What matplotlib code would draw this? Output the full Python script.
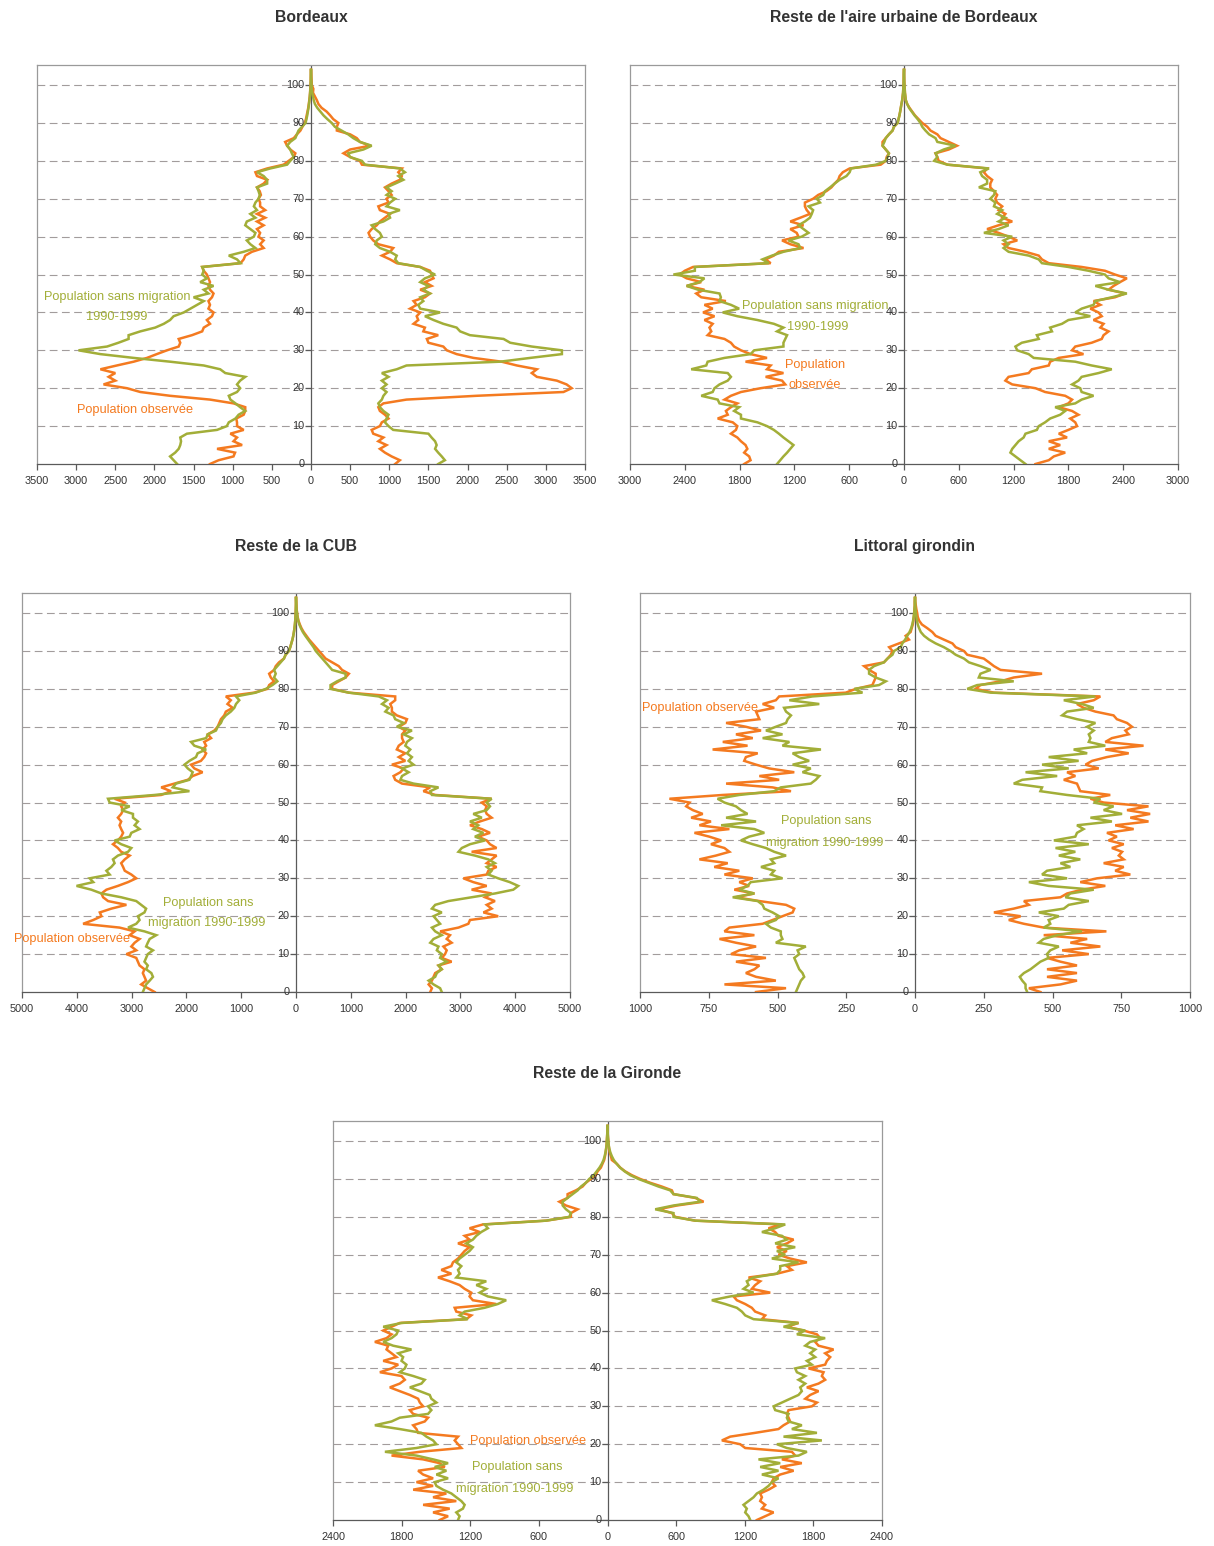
import numpy as np
import matplotlib
matplotlib.use("Agg")
import matplotlib.pyplot as plt
from matplotlib.transforms import offset_copy

W, H, DPI = 1214, 1546, 100
FONT = ["Liberation Sans Narrow", "Liberation Sans", "DejaVu Sans"]
ORANGE = "#F47A20"
GREEN = "#A2AE38"

ages = np.arange(0, 105)

# ---------------- Bordeaux ----------------
bdx_h_obs = [1290,1180,990,970,1200,880,990,945,1030,860,
    945,945,955,860,840,840,990,1290,1800,2180,
    2350,2650,2500,2585,2500,2690,2480,2265,2095,1970,
    1840,1690,1670,1690,1520,1390,1370,1290,1330,1265,
    1245,1310,1290,1310,1265,1245,1290,1310,1290,1310,
    1330,1370,1390,900,860,840,755,605,650,605,
    670,650,690,605,690,585,690,585,650,650,
    670,640,655,690,605,560,690,710,560,350,
    285,220,200,265,305,330,220,180,135,110,
    80,65,55,45,35,28,22,16,12,9,6,4,3,2,0]
bdx_h_sm = [1710,1755,1800,1735,1690,1670,1660,1670,1585,1200,
    1075,1050,965,925,840,905,965,1030,1050,945,
    905,945,905,840,1095,1160,1370,1800,2265,2690,
    2970,2605,2460,2330,2330,2180,1990,1880,1800,1755,
    1625,1540,1455,1370,1500,1310,1370,1245,1415,1330,
    1390,1370,1390,900,945,1050,860,710,775,820,
    730,710,775,840,820,710,775,690,730,710,
    670,655,670,690,560,560,605,690,520,305,
    265,220,245,265,305,265,200,180,160,115,
    70,58,48,40,32,26,20,15,11,8,5,4,3,2,0]
bdx_f_obs = [1075,1135,1030,945,880,965,860,925,795,775,
    880,905,990,945,880,860,925,1220,2115,3225,
    3330,3265,3140,2885,2820,2885,2630,2435,2075,1860,
    1735,1690,1500,1480,1625,1435,1455,1310,1370,1350,
    1395,1265,1350,1310,1455,1520,1395,1540,1455,1565,
    1540,1520,1395,1095,1010,905,1010,1050,860,795,
    755,735,775,840,880,945,1010,880,860,990,
    965,1030,990,945,1030,1135,1160,1115,1160,650,
    625,500,415,500,755,625,585,500,330,330,
    350,285,245,200,135,95,75,50,25,30,10,8,5,3,0]
bdx_f_sm = [1625,1710,1670,1625,1585,1605,1585,1540,1500,1050,
    990,945,965,990,925,880,860,905,925,965,
    905,965,905,990,905,1095,1220,2415,2800,3205,
    3205,2820,2545,2460,2030,1905,1860,1690,1565,1455,
    1650,1395,1370,1435,1395,1520,1435,1500,1395,1455,
    1585,1480,1395,1115,1075,1095,1010,880,820,840,
    905,880,820,775,925,1010,990,1135,965,1010,
    1075,965,1030,965,1075,1180,1115,1200,1135,690,
    650,500,475,670,775,625,540,475,390,305,
    265,210,160,120,80,50,35,25,15,10,7,5,3,2,0]

# ---------------- Reste de l'aire urbaine ----------------
au_h_obs = [1750,1680,1695,1750,1715,1735,1785,1825,1895,1840,
    1825,1875,2040,1930,1950,1895,1825,1965,1895,1785,
    1570,1300,1335,1515,1320,1500,1460,1735,1500,1680,
    1785,1860,1895,1965,2150,2110,2130,2095,2185,2075,
    2200,2095,2185,1950,2220,2275,2185,2380,2220,2380,
    2455,2400,2310,1460,1515,1425,1370,1100,1245,1335,
    1155,1175,1245,1100,1245,1135,1030,1065,1085,1085,
    995,940,850,795,760,720,705,670,595,255,
    200,190,165,200,235,235,200,165,125,110,
    70,60,50,42,35,28,20,15,10,8,5,4,3,2,0]
au_h_sm = [1390,1355,1320,1280,1245,1210,1265,1320,1370,1425,
    1500,1605,1785,1785,1860,1805,2020,2040,2220,2095,
    2075,2020,1930,1895,1930,2330,2165,2150,1965,1680,
    1640,1320,1320,1300,1280,1390,1320,1425,1605,1825,
    1985,1805,1895,2020,2005,2020,2255,2380,2240,2185,
    2525,2290,2290,1480,1550,1445,1320,1135,1155,1265,
    1120,1045,1100,1155,1085,1030,1010,995,1045,920,
    955,885,865,810,760,705,630,595,580,305,
    200,180,165,200,235,215,200,165,125,110,
    70,60,50,42,35,28,20,15,10,8,5,4,3,2,0]
au_f_obs = [1440,1585,1640,1765,1585,1710,1585,1785,1695,1800,
    1895,1875,1820,1910,1840,1695,1800,1840,1765,1545,
    1440,1185,1110,1145,1365,1400,1585,1600,1695,1965,
    1840,1875,2055,2165,2185,2240,2150,2185,2075,2165,
    2130,2040,2150,2075,2310,2420,2240,2295,2365,2440,
    2310,2200,1945,1585,1510,1475,1330,1145,1090,1240,
    1145,1035,910,1035,1185,1075,1110,1035,1075,1020,
    1000,1020,985,945,945,965,910,875,910,475,
    380,365,345,490,580,490,400,365,290,255,
    200,160,120,90,60,35,20,15,10,8,5,3,2,1,0]
au_f_sm = [1330,1275,1220,1165,1185,1220,1255,1310,1330,1455,
    1475,1545,1600,1710,1765,1655,1875,1945,2075,1945,
    1930,1840,1910,1945,2130,2275,2055,1875,1420,1365,
    1240,1220,1290,1475,1455,1620,1600,1730,1800,2040,
    1875,1945,2075,2095,2275,2440,2240,2095,2365,2240,
    2200,2020,1800,1510,1475,1365,1145,1090,1145,1090,
    1185,875,1035,1145,1035,1110,1020,1075,985,1000,
    945,985,1000,820,910,910,855,835,930,475,
    330,365,345,435,565,365,345,275,235,200,
    180,150,115,85,55,35,20,15,10,8,5,3,2,1,0]

# ---------------- Reste de la CUB ----------------
cub_h_obs = [2580,2705,2825,2735,2765,2795,2765,2855,2885,2915,
    3095,2915,3005,2945,2855,3035,2945,3220,3885,3700,
    3550,3580,3370,3095,3430,3520,3550,3460,3250,3065,
    2915,3005,3125,3155,3190,3125,3035,3190,3250,3340,
    3250,3190,3155,3190,3220,3190,3250,3190,3155,3190,
    3125,3310,2460,2280,2460,2220,1975,1885,1705,1855,
    1915,1735,1675,1640,1705,1640,1675,1550,1610,1490,
    1430,1400,1370,1310,1280,1155,1250,1190,1280,765,
    520,490,400,460,490,400,370,310,220,190,
    130,105,85,65,50,38,28,20,14,10,6,4,2,1,0]
cub_h_sm = [2795,2765,2735,2670,2610,2640,2735,2705,2765,2735,
    2705,2610,2735,2705,2670,2550,2765,3065,2915,2855,
    2885,2765,2735,2825,2915,3190,3550,3735,4005,3700,
    3765,3400,3460,3370,3310,3340,3250,3065,3005,3190,
    3310,3035,3005,2855,2945,2885,2975,2975,3190,3035,
    3400,3430,2580,1945,2250,2190,1945,1915,1885,1975,
    2035,1945,1825,1795,1640,1855,1915,1640,1610,1460,
    1430,1370,1340,1280,1190,1125,1095,1035,1095,735,
    550,430,340,400,370,400,340,280,220,190,
    130,105,85,65,50,38,28,20,14,10,6,4,2,1,0]
cub_f_obs = [2450,2480,2420,2480,2510,2540,2660,2600,2840,2660,
    2720,2750,2690,2840,2750,2810,2630,2965,3145,3175,
    3690,3420,3570,3480,3630,3450,3570,3205,3480,3235,
    3055,3480,3510,3660,3480,3570,3660,3205,3660,3540,
    3480,3325,3540,3390,3175,3355,3570,3480,3450,3480,
    3390,3570,2540,2325,2450,1935,1810,1780,1905,1965,
    1750,1995,1875,1995,1840,1875,1965,1935,1935,1995,
    1875,1995,2025,1840,1750,1750,1720,1810,1810,965,
    660,660,780,905,965,840,780,660,540,480,
    420,360,300,240,190,140,100,70,45,30,20,12,8,4,0]
cub_f_sm = [2660,2630,2510,2420,2540,2570,2660,2600,2750,2630,
    2660,2570,2600,2450,2510,2660,2540,2480,2630,2570,
    2510,2660,2480,2540,2780,3205,3630,3965,4055,3900,
    3690,3510,3570,3480,3630,3510,3265,2965,3025,3175,
    3450,3265,3420,3235,3325,3175,3390,3235,3480,3540,
    3480,3570,2480,2450,2600,2145,1905,1935,2055,1935,
    2145,2055,2115,2025,2085,1995,2025,2115,1965,2115,
    1840,1965,1810,1780,1630,1690,1570,1660,1510,965,
    630,630,750,905,905,660,600,540,480,420,
    360,320,270,220,170,125,90,60,40,28,18,10,6,3,0]

# ---------------- Littoral girondin ----------------
lit_h_obs = [578,469,693,506,578,615,584,566,651,542,
    669,639,578,651,711,584,693,675,554,518,
    482,445,439,469,566,651,584,657,603,639,
    590,693,639,730,681,784,724,675,693,742,
    705,748,802,675,784,742,814,772,808,832,
    820,893,699,451,518,687,494,566,439,530,
    578,621,615,572,736,609,699,590,651,560,
    615,687,566,572,578,512,554,506,494,252,
    215,155,149,143,143,167,185,113,100,88,
    82,94,58,22,34,16,12,8,6,4,3,2,1,1,0]
lit_h_sm = [433,427,421,415,403,409,421,427,433,439,
    421,427,397,506,482,488,488,524,542,506,
    494,518,548,554,572,663,584,639,609,597,
    482,524,512,560,512,524,469,512,542,590,
    633,603,548,584,705,578,687,609,633,651,
    693,718,639,512,488,379,361,348,409,379,
    445,385,421,445,342,482,457,554,482,542,
    506,469,463,451,469,476,348,457,373,191,
    221,131,106,143,167,167,149,113,100,82,
    76,52,46,36,28,20,14,10,7,5,3,2,1,1,0]
lit_f_obs = [456,414,529,589,480,589,480,589,529,480,
    632,535,674,565,626,468,696,468,396,341,
    384,287,359,414,396,529,553,607,692,601,
    662,783,728,759,686,759,741,753,716,759,
    704,734,698,795,728,849,783,855,771,849,
    686,638,710,601,595,589,541,583,553,668,
    620,644,698,777,692,831,692,716,777,765,
    789,771,734,722,656,613,589,650,674,287,
    220,238,311,359,462,311,287,269,250,190,
    178,148,136,105,75,63,45,25,15,10,8,5,3,1,0]
lit_f_sm = [408,402,402,390,381,396,420,438,456,486,
    480,492,523,450,468,517,607,468,492,486,
    523,450,541,559,632,547,565,650,486,414,
    553,462,480,565,529,601,523,583,511,632,
    505,583,589,613,589,716,638,753,686,722,
    650,674,553,456,462,359,390,517,402,559,
    462,595,486,626,577,692,632,638,632,650,
    626,656,589,535,553,650,607,541,656,275,
    190,226,359,232,238,275,238,196,178,148,
    129,105,75,51,33,21,15,10,7,5,3,2,1,1,0]

# ---------------- Reste de la Gironde ----------------
gir_h_obs = [1467,1394,1525,1380,1612,1322,1525,1409,1699,1525,
    1670,1525,1612,1656,1423,1467,1612,1888,1641,1278,
    1307,1336,1307,1656,1670,1699,1598,1569,1699,1728,
    1612,1641,1656,1728,1816,1903,1816,1772,1801,1990,
    1888,1830,1961,1845,1888,1932,1917,2034,1932,1888,
    1961,1888,1816,1235,1191,1322,1336,973,1177,1206,
    1191,1249,1293,1380,1482,1365,1453,1365,1351,1307,
    1278,1249,1206,1307,1206,1249,1118,1206,1089,537,
    320,320,261,363,421,349,349,276,218,189,
    145,102,87,58,44,29,22,16,12,8,6,4,2,1,0]
gir_h_sm = [1307,1293,1322,1264,1249,1278,1322,1365,1438,1496,
    1511,1394,1496,1409,1511,1394,1525,1670,1946,1670,
    1496,1525,1583,1627,1816,2034,1888,1816,1569,1540,
    1569,1496,1540,1554,1641,1728,1627,1598,1699,1816,
    1772,1758,1801,1787,1830,1714,1874,1961,1888,1845,
    1830,1961,1801,1220,1293,1249,1075,959,886,1046,
    1118,1060,1147,1060,1322,1293,1307,1278,1322,1293,
    1249,1206,1177,1235,1177,1147,1104,1046,1075,537,
    334,320,363,392,392,349,305,261,232,189,
    160,120,95,70,50,35,25,18,12,8,6,4,2,1,0]
gir_f_obs = [1306,1379,1452,1350,1379,1335,1350,1335,1408,1466,
    1437,1452,1510,1627,1510,1699,1525,1641,1612,1204,
    1160,1000,1073,1291,1495,1539,1597,1583,1568,1583,
    1787,1831,1729,1772,1845,1743,1845,1903,1874,1889,
    1758,1903,1918,1947,1903,1976,1845,1816,1860,1831,
    1714,1568,1670,1350,1379,1291,1262,1204,1131,1102,
    1423,1262,1291,1335,1233,1481,1612,1568,1743,1597,
    1495,1568,1481,1568,1627,1495,1466,1408,1525,767,
    592,563,446,606,840,767,577,563,475,373,
    286,213,155,111,82,38,30,20,14,10,7,4,2,1,0]
gir_f_sm = [1248,1233,1204,1218,1189,1233,1277,1306,1364,1408,
    1437,1495,1350,1495,1335,1510,1320,1670,1743,1568,
    1481,1874,1539,1831,1612,1699,1583,1568,1583,1466,
    1452,1525,1597,1670,1699,1685,1729,1670,1729,1656,
    1641,1787,1743,1816,1772,1816,1729,1772,1903,1656,
    1729,1539,1670,1277,1204,1175,1131,1029,912,1073,
    1277,1189,1233,1218,1277,1481,1510,1510,1670,1437,
    1554,1481,1641,1466,1568,1525,1350,1466,1554,767,
    577,577,417,577,810,781,577,548,446,359,
    271,200,150,110,80,55,38,25,16,10,7,4,2,1,0]

LBL_OBS = "Population observée"

# plot-area rectangles in pixels: (left, top, right, bottom)
panels = [
    dict(title="Bordeaux", rect=(37, 65, 585, 464), lim=3500, step=500,
         series=(bdx_h_obs, bdx_h_sm, bdx_f_obs, bdx_f_sm),
         notes=[("Population sans migration", GREEN, 117, 297),
                ("1990-1999", GREEN, 117, 317),
                (LBL_OBS, ORANGE, 135, 410)]),
    dict(title="Reste de l'aire urbaine de Bordeaux", rect=(630, 65, 1178, 464), lim=3000, step=600,
         series=(au_h_obs, au_h_sm, au_f_obs, au_f_sm),
         notes=[("Population sans migration", GREEN, 815, 306),
                ("1990-1999", GREEN, 818, 327),
                ("Population", ORANGE, 815, 365),
                ("observée", ORANGE, 815, 385)]),
    dict(title="Reste de la CUB", rect=(22, 593, 570, 992), lim=5000, step=1000,
         series=(cub_h_obs, cub_h_sm, cub_f_obs, cub_f_sm),
         notes=[("Population sans", GREEN, 208, 903),
                ("migration 1990-1999", GREEN, 207, 923),
                (LBL_OBS, ORANGE, 72, 939)]),
    dict(title="Littoral girondin", rect=(640, 593, 1190, 992), lim=1000, step=250,
         series=(lit_h_obs, lit_h_sm, lit_f_obs, lit_f_sm),
         notes=[(LBL_OBS, ORANGE, 700, 708),
                ("Population sans", GREEN, 826, 821),
                ("migration 1990-1999", GREEN, 825, 843)]),
    dict(title="Reste de la Gironde", rect=(333, 1121, 882, 1520), lim=2400, step=600,
         series=(gir_h_obs, gir_h_sm, gir_f_obs, gir_f_sm),
         notes=[(LBL_OBS, ORANGE, 528, 1441),
                ("Population sans", GREEN, 517, 1467),
                ("migration 1990-1999", GREEN, 515, 1489)]),
]

fig = plt.figure(figsize=(W / DPI, H / DPI), dpi=DPI)
fig.patch.set_facecolor("white")

TOP_AGE = 105.3

for p in panels:
    l, t, r, b = p["rect"]
    ax = fig.add_axes([l / W, 1 - b / H, (r - l) / W, (b - t) / H])
    lim = p["lim"]
    ax.set_xlim(-lim, lim)
    ax.set_ylim(0, TOP_AGE)

    # dashed age gridlines
    for a in range(10, 101, 10):
        ax.axhline(a, color="#A29C9C", lw=0.8, dashes=(7, 4), zorder=1)

    h_obs, h_sm, f_obs, f_sm = [np.asarray(s, dtype=float) for s in p["series"]]
    for s in (h_obs, h_sm, f_obs, f_sm):
        assert len(s) == len(ages)
    kw = dict(lw=1.8, solid_joinstyle="miter", zorder=3)
    ax.plot(-h_obs, ages, color=ORANGE, **kw)
    ax.plot(f_obs, ages, color=ORANGE, **kw)
    ax.plot(-h_sm, ages, color=GREEN, **kw)
    ax.plot(f_sm, ages, color=GREEN, **kw)

    # central age axis
    ax.axvline(0, color="#5A5A5A", lw=0.9, zorder=2)
    yt = np.arange(0, 101, 10)
    ax.plot(np.zeros_like(yt), yt, ls="none", marker=0, ms=4, mew=0.9,
            color="#5A5A5A", zorder=2)
    off = offset_copy(ax.transData, fig=fig, x=-4.5, y=0, units="points")
    for a in yt:
        ax.text(0, a, str(a), transform=off, ha="right", va="center",
                fontsize=7.8, family=FONT, color="#333333", zorder=4)

    ax.set_yticks([])
    xt = np.arange(-lim, lim + 1, p["step"])
    ax.set_xticks(xt)
    ax.set_xticklabels([str(abs(int(v))) for v in xt], fontsize=7.8,
                       family=FONT, color="#333333")
    ax.tick_params(axis="x", direction="out", length=4, width=0.9,
                   color="#5A5A5A", pad=5)
    for side in ("left", "right", "top"):
        ax.spines[side].set_color("#9A9A9A")
        ax.spines[side].set_linewidth(0.9)
    ax.spines["bottom"].set_color("#5A5A5A")
    ax.spines["bottom"].set_linewidth(0.9)

    cx = (l + r) / 2
    ty = 17 if t < 100 else (t - 47)
    fig.text(cx / W, 1 - ty / H, p["title"], ha="center", va="center",
             fontsize=11.3, fontweight="bold", family=FONT, color="#333333")

    for txt, col, x, y in p["notes"]:
        fig.text(x / W, 1 - y / H, txt, ha="center", va="center",
                 fontsize=9.2, family=FONT, color=col, zorder=5)

fig.savefig("out.png", dpi=DPI, facecolor="white")
